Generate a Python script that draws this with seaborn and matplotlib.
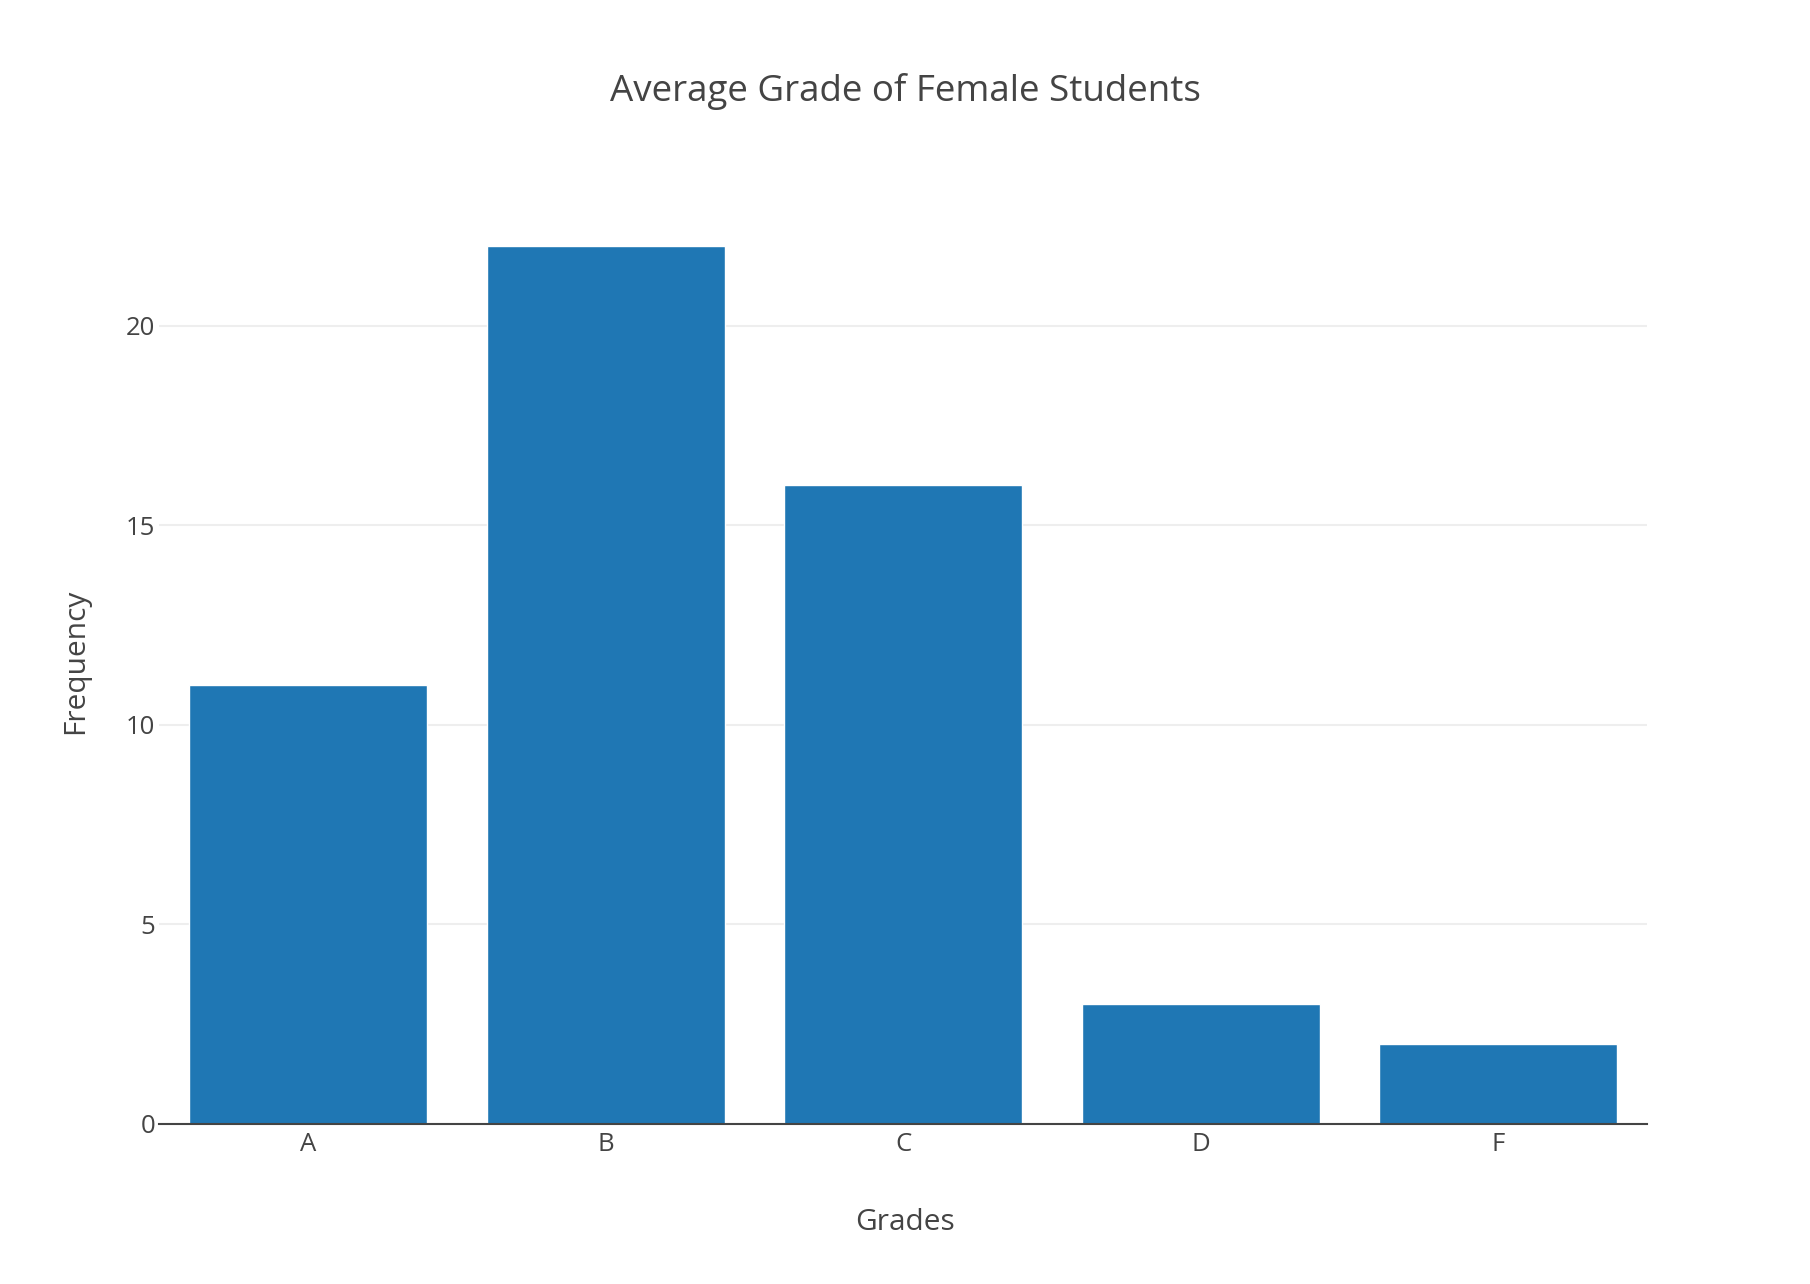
import matplotlib
matplotlib.use("Agg")
import matplotlib.pyplot as plt
import seaborn as sns
import pandas as pd

grades = ["A", "B", "C", "D", "F"]
frequency = [11, 22, 16, 3, 2]
yticks = [0, 5, 10, 15, 20]

df = pd.DataFrame({"Grades": grades, "Frequency": frequency})

sns.set_theme(style="white")
plt.rcParams["font.family"] = ["Open Sans", "DejaVu Sans"]
text_color = "#444444"

left, right, bottom, top = 0.088, 0.910, 0.125, 0.8444
fig = plt.figure(figsize=(18.1, 12.84), dpi=100)
ax = fig.add_axes([left, bottom, right - left, top - bottom])

sns.barplot(data=df, x="Grades", y="Frequency", color="#1f77b4", saturation=1,
            width=0.8, ax=ax, zorder=3)

ax.set_xlim(-0.5, 4.5)
ax.set_ylim(0, 22 * 1.0526)
ax.set_yticks(yticks)
ax.set_yticklabels([str(v) for v in yticks])
ax.grid(axis="y", color="#eeeeee", linewidth=1.5, zorder=0)
ax.set_axisbelow(True)
for s in ["top", "right", "left"]:
    ax.spines[s].set_visible(False)
ax.spines["bottom"].set_color(text_color)
ax.spines["bottom"].set_linewidth(1.5)
ax.spines["bottom"].set_zorder(4)
ax.tick_params(axis="both", length=0, labelsize=18.5, colors=text_color)
ax.tick_params(axis="x", pad=6)
ax.tick_params(axis="y", pad=3)
ax.set_xlabel("")
ax.set_ylabel("")

fig.text(0.5, 0.048, "Grades", ha="center", va="center", fontsize=21.5, color=text_color)
fig.text(0.042, (bottom + top) / 2, "Frequency", ha="center", va="center",
         rotation=90, fontsize=21.5, color=text_color)
fig.text(0.5, 0.929, "Average Grade of Female Students", ha="center", va="center",
         fontsize=26.5, color=text_color)

fig.savefig("out.png", dpi=100, facecolor="white")
